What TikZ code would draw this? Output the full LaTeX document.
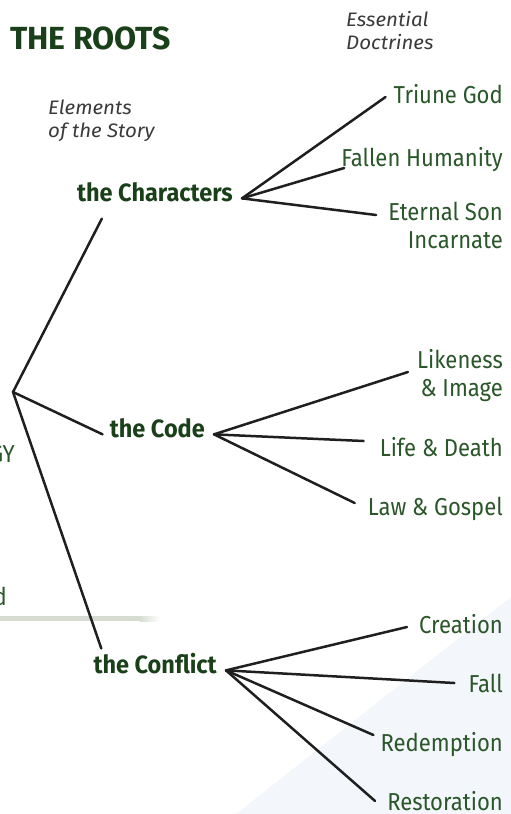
\documentclass[tikz,border=0pt]{standalone}
\usepackage{fontspec}
\setmainfont{Fira Sans}[FakeStretch=0.9]
\newfontfamily\hubfont{Fira Sans}[FakeStretch=0.94]
\newfontfamily\titlefont{Fira Sans}
\newfontfamily\notefont{Fira Sans}[FakeStretch=1.05]
\usepackage{tikz}

\definecolor{rootgreen}{RGB}{26,64,26}
\definecolor{leafgreen}{RGB}{42,86,42}
\definecolor{notegray}{RGB}{58,58,58}
\definecolor{bargray}{RGB}{214,220,210}
\definecolor{bgtint}{RGB}{243,246,250}

\begin{document}
\begin{tikzpicture}[x=1pt, y=-1pt,
    hub/.style={font=\hubfont\fontsize{25}{28}\selectfont\bfseries, text=rootgreen, inner xsep=9pt, inner ysep=0pt},
    leaf/.style={font=\fontsize{24.5}{28}\selectfont, text=leafgreen, inner sep=0pt, align=right},
    note/.style={font=\notefont\fontsize{19.5}{23}\selectfont\itshape, text=notegray, inner sep=0pt, align=left},
    branch/.style={line width=2.5pt, draw=black!88, line cap=round}]
    \useasboundingbox (0,0) rectangle (511,814);
    % background tint and the cut-off panel on the left
    \fill[bgtint] (511,597) -- (511,814) -- (236,814) -- cycle;
    \fill[bargray] (0,616) rectangle (140,621);
    \shade[left color=bargray, right color=white] (140,616) rectangle (160,621);
    \node[leaf, anchor=base east] (theology) at (15,462) {GY};
    \node[leaf, anchor=base east] (cutword) at (7,605) {d};
    % headings
    \node[anchor=base west, inner sep=0pt, text=rootgreen, font=\titlefont\fontsize{32}{32}\selectfont\bfseries] (title) at (10,49) {THE ROOTS};
    \node[note, anchor=base west] (elements) at (48,137) {Elements\\of the Story};
    \node[note, anchor=base west] (doctrines) at (346,49) {Essential\\Doctrines};
    % the three elements
    \coordinate (root) at (13,392);
    \node[hub, anchor=base east] (chars) at (242,201) {the Characters};
    \node[hub, anchor=base east] (code) at (214,437) {the Code};
    \node[hub, anchor=base east] (conflict) at (226,673) {the Conflict};
    \draw[branch] (root) -- ([shift={(34,17)}]chars.south west);
    \draw[branch] (root) -- ([xshift=2pt]code.mid west);
    \draw[branch] (root) -- ([shift={(17,-4)}]conflict.north west);
    % doctrines
    \node[leaf, anchor=base east] (triune) at (503,103) {Triune God};
    \node[leaf, anchor=base east] (fallen) at (503,166) {Fallen Humanity};
    \node[leaf, anchor=base east] (eternal) at (503,248) {Eternal Son\\Incarnate};
    \node[leaf, anchor=base east] (likeness) at (503,396) {Likeness\\\& Image};
    \node[leaf, anchor=base east] (life) at (503,456) {Life \& Death};
    \node[leaf, anchor=base east] (law) at (503,515) {Law \& Gospel};
    \node[leaf, anchor=base east] (creation) at (503,633) {Creation};
    \node[leaf, anchor=base east] (fall) at (503,692) {Fall};
    \node[leaf, anchor=base east] (redemption) at (503,751) {Redemption};
    \node[leaf, anchor=base east] (restoration) at (503,810) {Restoration};
    \draw[branch] (chars.mid east) -- ([shift={(-8,-6)}]triune.base west);
    \draw[branch] (chars.mid east) -- ([shift={(3,2)}]fallen.base west);
    \draw[branch] (chars.mid east) -- ([shift={(-12,-33)}]eternal.base west);
    \draw[branch] (code.mid east) -- ([shift={(-9,-24)}]likeness.base west);
    \draw[branch] (code.mid east) -- ([shift={(-16,-15)}]life.base west);
    \draw[branch] (code.mid east) -- ([shift={(-13,-12)}]law.base west);
    \draw[branch] (conflict.mid east) -- ([shift={(-12,-6)}]creation.base west);
    \draw[branch] (conflict.mid east) -- ([shift={(-14,-9)}]fall.base west);
    \draw[branch] (conflict.mid east) -- ([shift={(-7,-16)}]redemption.base west);
    \draw[branch] (conflict.mid east) -- ([shift={(-12,-9)}]restoration.base west);
\end{tikzpicture}
\end{document}
